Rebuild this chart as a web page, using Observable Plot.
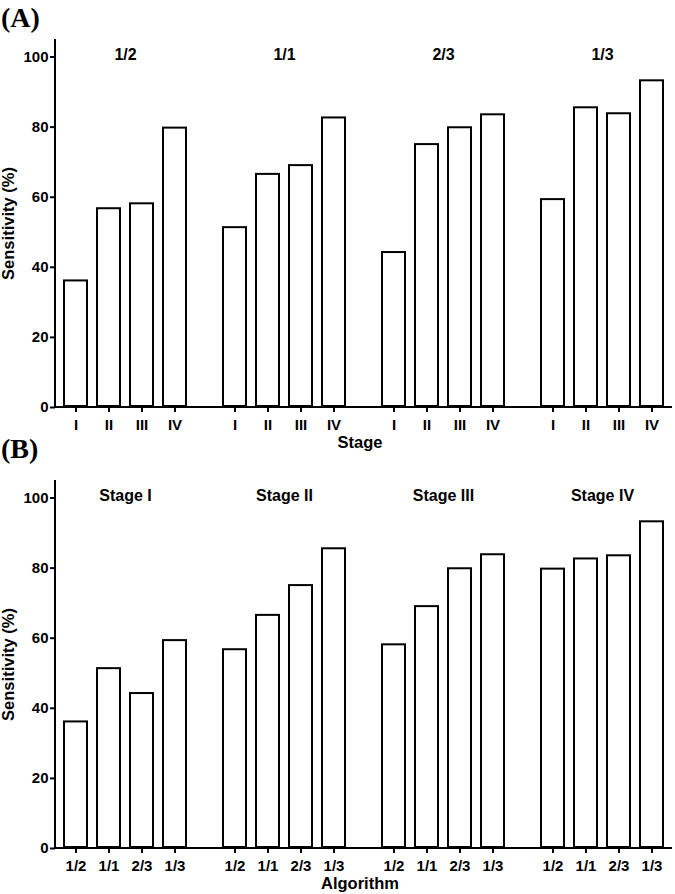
<!DOCTYPE html>
<html>
<head>
<meta charset="utf-8">
<script src="https://cdn.jsdelivr.net/npm/d3@7"></script>
<script src="https://cdn.jsdelivr.net/npm/@observablehq/plot@0.6"></script>
<style>
  html, body { margin: 0; padding: 0; background: white; }
  #wrap { width: 675px; height: 894px; position: relative; }
  svg { display: block; }
</style>
</head>
<body>
<div id="wrap"><div id="a"></div><div id="b"></div></div>
<script>
// ---- data ----
const algorithms = ["1/2", "1/1", "2/3", "1/3"];
const stages = ["I", "II", "III", "IV"];
const stageTitles = ["Stage I", "Stage II", "Stage III", "Stage IV"];
// sensitivity (%) per algorithm, in stage order I, II, III, IV
const sens_1_2 = [36.4, 57.0, 58.4, 80.0];
const sens_1_1 = [51.6, 66.8, 69.3, 82.9];
const sens_2_3 = [44.5, 75.3, 80.1, 83.8];
const sens_1_3 = [59.6, 85.8, 84.1, 93.5];
const yTicks = [0, 20, 40, 60, 80, 100];
const yLabel = "Sensitivity (%)";

const series = [sens_1_2, sens_1_1, sens_2_3, sens_1_3];
const rows = [];
algorithms.forEach((alg, i) => stages.forEach((st, j) => {
  rows.push({alg, stage: st, stageTitle: stageTitles[j], value: series[i][j]});
}));

function panel({fxKey, xKey, fxDomain, xDomain, xTitle, tag, height, marginBottom, xTitleY}) {
  const chart = Plot.plot({
    width: 675,
    height,
    marginTop: 39,
    marginBottom,
    marginLeft: 55,
    marginRight: 3,
    style: {
      fontFamily: "'Liberation Sans', Arial, sans-serif",
      fontSize: "15px",
      fontWeight: "bold",
      color: "black",
      background: "transparent",
      overflow: "visible"
    },
    fx: {domain: fxDomain, paddingInner: 0.12, paddingOuter: 0, axis: null, label: null},
    x: {domain: xDomain, paddingInner: 0.23, paddingOuter: 0.215, label: null},
    y: {domain: [0, 105], label: yLabel},
    marks: [
      Plot.barY(rows, {fx: fxKey, x: xKey, y: "value", fill: "white", stroke: "black", strokeWidth: 2, inset: 1}),
      Plot.axisY({ticks: yTicks, tickSize: 5, tickPadding: 2, strokeWidth: 2, fontSize: 15,
                  label: null}),
      Plot.axisY({ticks: [], tickSize: 0, label: yLabel, labelAnchor: "center", labelArrow: "none",
                  labelOffset: 53, fontSize: 16.5}),
      Plot.axisX({tickSize: 5, tickPadding: 7, strokeWidth: 2, fontSize: 15, label: null}),
      Plot.text(fxDomain, {fx: d => d, text: d => d, frameAnchor: "top", dy: 9, fontSize: 16, fontWeight: "bold"})
    ]
  });
  const svg = d3.select(chart);
  const y = chart.scale("y");
  const y0 = y.apply(0), yTop = y.apply(105);
  const xL = 55, xR = 675 - 3;
  svg.append("line").attr("x1", xL).attr("x2", xR).attr("y1", y0).attr("y2", y0)
     .attr("stroke", "black").attr("stroke-width", 2);
  svg.append("line").attr("x1", xL).attr("x2", xL).attr("y1", yTop).attr("y2", y0 + 1)
     .attr("stroke", "black").attr("stroke-width", 2);
  svg.append("text").attr("x", 360).attr("y", xTitleY).attr("text-anchor", "middle")
     .attr("font-size", 16.5).attr("font-weight", "bold").attr("fill", "black").text(xTitle);
  svg.append("text").attr("x", 1).attr("y", tag.y).attr("text-anchor", "start")
     .attr("font-family", "'Liberation Serif', 'Times New Roman', serif")
     .attr("font-size", 28).attr("font-weight", "bold").attr("fill", "black").text(tag.text);
  return chart;
}

document.getElementById("a").appendChild(panel({
  fxKey: "alg", xKey: "stage", fxDomain: algorithms, xDomain: stages,
  xTitle: "Stage", tag: {text: "(A)", y: 27}, height: 441, marginBottom: 34, xTitleY: 448
}));
document.getElementById("b").appendChild(panel({
  fxKey: "stageTitle", xKey: "alg", fxDomain: stageTitles, xDomain: algorithms,
  xTitle: "Algorithm", tag: {text: "(B)", y: 17}, height: 453, marginBottom: 46, xTitleY: 448
}));
</script>
</body>
</html>
